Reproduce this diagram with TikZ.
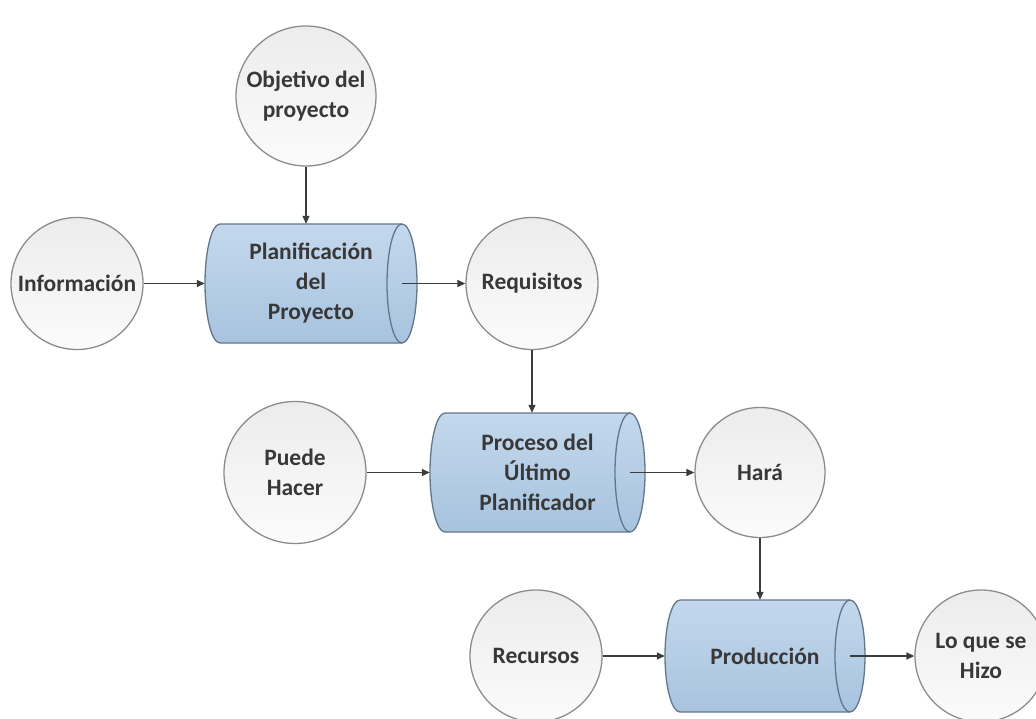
\documentclass[tikz,border=0pt]{standalone}
\usepackage{fontspec}
\setmainfont{Carlito}
\usetikzlibrary{arrows.meta}
\definecolor{circT}{HTML}{ECECEC}
\definecolor{circB}{HTML}{FBFBFB}
\definecolor{circLine}{HTML}{8C8C8C}
\definecolor{cylT}{HTML}{C3D8EC}
\definecolor{cylB}{HTML}{A8C3DF}
\definecolor{cylLine}{HTML}{62778B}
\definecolor{arrowCol}{HTML}{3C3C3C}
\definecolor{txtCol}{HTML}{383838}
\tikzset{
  circnode/.style={circle, draw=circLine, line width=1.3pt, top color=circT, bottom color=circB,
    minimum size=132pt, inner sep=0pt, align=center, text=txtCol,
    font=\fontsize{23.5}{30}\selectfont\bfseries},
  cylbox/.style={rectangle, draw=none, inner sep=0pt, align=center, text=txtCol,
    font=\fontsize{23.5}{30}\selectfont\bfseries},
  cylbody/.style={draw=cylLine, line width=1.3pt, top color=cylT, bottom color=cylB},
  cylinner/.style={draw=cylLine, line width=1.3pt},
  arr/.style={draw=arrowCol, line width=1.3pt, -{Triangle[length=8pt,width=7pt]}}
}
\begin{document}
\begin{tikzpicture}[x=1pt,y=-1pt]
\useasboundingbox[fill=white] (0,0) rectangle (1036,719);

% cylinder 1
\path[cylbody] (220,224) -- (402,224) arc[start angle=-90,end angle=90,x radius=15,y radius=59.5]
  -- (220,343) arc[start angle=90,end angle=270,x radius=15,y radius=59.5] -- cycle;
\path[cylinner] (402,224) arc[start angle=-90,end angle=-270,x radius=15,y radius=59.5];
\node[cylbox, minimum width=212pt, minimum height=119pt] (c1) at (311,283.5) {Planificación\\del\\Proyecto};
\coordinate (c1e) at (402,283.5);

% cylinder 2
\path[cylbody] (445,413) -- (630,413) arc[start angle=-90,end angle=90,x radius=15,y radius=59.5]
  -- (445,532) arc[start angle=90,end angle=270,x radius=15,y radius=59.5] -- cycle;
\path[cylinner] (630,413) arc[start angle=-90,end angle=-270,x radius=15,y radius=59.5];
\node[cylbox, minimum width=215pt, minimum height=119pt] (c2) at (537.5,472.5) {Proceso del\\Último\\Planificador};
\coordinate (c2e) at (630,472.5);

% cylinder 3
\path[cylbody] (680,600) -- (850,600) arc[start angle=-90,end angle=90,x radius=15,y radius=56]
  -- (680,712) arc[start angle=90,end angle=270,x radius=15,y radius=56] -- cycle;
\path[cylinner] (850,600) arc[start angle=-90,end angle=-270,x radius=15,y radius=56];
\node[cylbox, minimum width=200pt, minimum height=112pt] (c3) at (765,656) {Producción};
\coordinate (c3e) at (850,656);

% circles
\node[circnode, minimum size=140pt] (obj) at (306,96) {Objetivo del\\proyecto};
\node[circnode] (inf) at (77,283.5) {Información};
\node[circnode] (req) at (532,283.5) {Requisitos};
\node[circnode, minimum size=142pt] (pue) at (295,472.5) {Puede\\Hacer};
\node[circnode, minimum size=130pt] (har) at (760,472.5) {Hará};
\node[circnode] (rec) at (536,656) {Recursos};
\node[circnode] (loq) at (981,656) {Lo que se\\Hizo};

% connectors
\draw[arr] (obj) -- (obj |- c1.north);
\draw[arr] (inf) -- (c1.west);
\draw[arr] (c1e) -- (c1e -| req.west);
\draw[arr] (req) -- (req |- c2.north);
\draw[arr] (pue) -- (c2.west);
\draw[arr] (c2e) -- (c2e -| har.west);
\draw[arr] (har) -- (har |- c3.north);
\draw[arr] (rec) -- (c3.west);
\draw[arr] (c3e) -- (c3e -| loq.west);
\end{tikzpicture}
\end{document}
